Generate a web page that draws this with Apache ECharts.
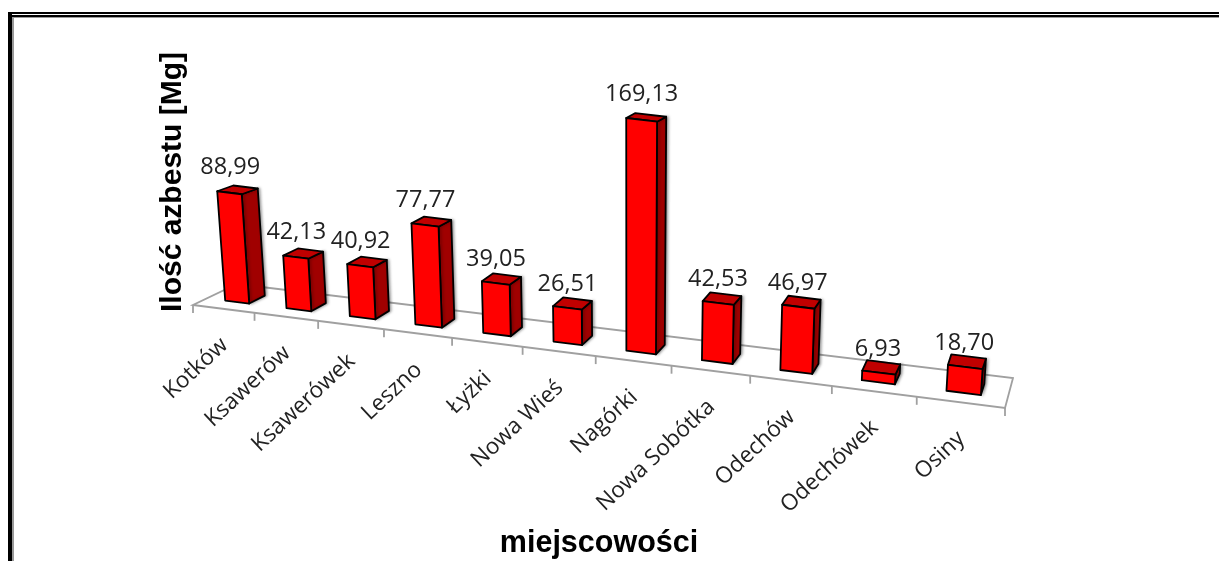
<!DOCTYPE html>
<html>
<head>
<meta charset="utf-8">
<style>html,body{margin:0;padding:0;background:#fff}#c{width:1219px;height:561px}</style>
<script src="https://cdn.jsdelivr.net/npm/echarts@6/dist/echarts.min.js"></script>
</head>
<body>
<div id="c"></div>
<script>
const categories = ['Kotków','Ksawerów','Ksawerówek','Leszno','Łyżki','Nowa Wieś','Nagórki','Nowa Sobótka','Odechów','Odechówek','Osiny'];
const values = [88.99,42.13,40.92,77.77,39.05,26.51,169.13,42.53,46.97,6.93,18.70];
const yAxisTitle = 'Ilość azbestu [Mg]';
const xAxisTitle = 'miejscowości';

// Oblique floor used to project the flat cartesian grid
const GRID = {left:193, top:82, width:812, height:200};
const FLOOR = {f0:[193,305], f1:[1005,408], b0:[237,284], b1:[1013,378]};
const PERSP = 0.82, DEPTH0 = 0.32, DEPTH1 = 0.69, BAR = 0.198, LEAN = 0.00018, VX = 630;
const lerp = (a,b,k) => [a[0]+(b[0]-a[0])*k, a[1]+(b[1]-a[1])*k];
function ground(px, d){
  const t = (px-GRID.left)/GRID.width;
  const u = t*PERSP/(1+(PERSP-1)*t);
  return lerp(lerp(FLOOR.f0,FLOOR.f1,u), lerp(FLOOR.b0,FLOOR.b1,u), d);
}
const heightScale = (t,v) => (1.21+0.175*Math.min(1,t/0.68))*(1+0.00006*v);
const up = (p,h) => [p[0]+(p[0]-VX)*h*LEAN, p[1]-h];

function renderFloor(params, api){
  const i = api.value(0), c = api.coord([i,0]), w = api.size([1,0])[0];
  const x = c[0]-w/2, p = ground(x,0);
  const ls = {stroke:'#a0a0a0', lineWidth:1.8, fill:null};
  const kids = [{type:'line', shape:{x1:p[0],y1:p[1],x2:p[0],y2:p[1]+8}, style:ls}];
  if(i===0){
    const e = x+w*categories.length;
    const q = ground(e,0);
    kids.push({type:'line', shape:{x1:q[0],y1:q[1],x2:q[0],y2:q[1]+8}, style:ls});
    kids.push({type:'polygon', shape:{points:[p,q,ground(e,1),ground(x,1)]}, style:{fill:'#fff',stroke:'#a0a0a0',lineWidth:1.8}});
  }
  return {type:'group', children:kids};
}
function renderBar(params, api){
  const i = api.value(0), v = api.value(1);
  const c = api.coord([i,0]), top = api.coord([i,v]), w = api.size([1,0])[0];
  const t = (c[0]-GRID.left)/GRID.width;
  const h = (c[1]-top[1])*heightScale(t,v);
  const xL = c[0]-w*BAR, xR = c[0]+w*BAR;
  const fl = ground(xL,DEPTH0), fr = ground(xR,DEPTH0), br = ground(xR,DEPTH1);
  const tfl = up(fl,h), tfr = up(fr,h), tbr = up(br,h*0.98);
  const tbl = [tfl[0]+tbr[0]-tfr[0], tfl[1]+tbr[1]-tfr[1]];
  const edge = {stroke:'#000', lineWidth:1.8, lineJoin:'round'};
  const mk = (pts,fill,extra) => ({type:'polygon', shape:{points:pts}, style:Object.assign({fill},edge,extra||{})});
  const lx = (tfl[0]+tbr[0])/2-7.5+5*t, ly = tbr[1]-18+4*t-h*0.03;
  const end = ground(c[0],0);
  return {type:'group', children:[
    mk([fr,br,tbr,tfr],'#a00000',{shadowColor:'rgba(0,0,0,0.35)',shadowBlur:3,shadowOffsetX:1.5}),
    mk([tfl,tfr,tbr,tbl],'#c00000'),
    mk([fl,fr,tfr,tfl],'#ff0000'),
    {type:'text', style:{text:v.toFixed(2).replace('.',','), x:lx, y:ly, align:'center', verticalAlign:'middle',
      font:'23.5px "Open Sans"', fill:'#222'}},
    {type:'text', x:end[0]+1, y:end[1]+33, rotation:43*Math.PI/180, style:{text:categories[i], x:0, y:0, align:'right', verticalAlign:'middle',
      font:'22.5px "Open Sans"', fill:'#222'}}
  ]};
}
const chart = echarts.init(document.getElementById('c'), null, {renderer:'canvas'});
chart.setOption({
  animation:false,
  backgroundColor:'#fff',
  grid:Object.assign({containLabel:false, outerBoundsMode:'none'},GRID),
  xAxis:{type:'category', data:categories, name:xAxisTitle, nameLocation:'middle', nameGap:246,
    nameTextStyle:{fontFamily:'Liberation Sans', fontWeight:'bold', fontSize:30.5, color:'#000'},
    axisLine:{show:false}, axisTick:{show:false}, axisLabel:{show:false}},
  yAxis:{type:'value', min:0, max:200, name:yAxisTitle, nameLocation:'middle', nameGap:5,
    nameTextStyle:{fontFamily:'Liberation Sans', fontWeight:'bold', fontSize:30, color:'#000'},
    axisLine:{show:false}, axisTick:{show:false}, axisLabel:{show:false}, splitLine:{show:false}},
  graphic:[
    {type:'rect', shape:{x:8,y:12,width:1211,height:2}, style:{fill:'#000'}},
    {type:'rect', shape:{x:8,y:15,width:1211,height:2}, style:{fill:'#000'}},
    {type:'rect', shape:{x:12,y:17,width:1207,height:1}, style:{fill:'#999'}},
    {type:'rect', shape:{x:8,y:12,width:4,height:549}, style:{fill:'#000'}},
    {type:'rect', shape:{x:12,y:17,width:2,height:544}, style:{fill:'#999'}}
  ],
  series:[
    {type:'custom', z:1, clip:false, silent:true, renderItem:renderFloor, encode:{x:0,y:1},
      data:categories.map((c,i)=>[i,0])},
    {type:'custom', z:2, clip:false, silent:true, renderItem:renderBar, encode:{x:0,y:1},
      data:values.map((v,i)=>[i,v])}
  ]
});
</script>
</body>
</html>
